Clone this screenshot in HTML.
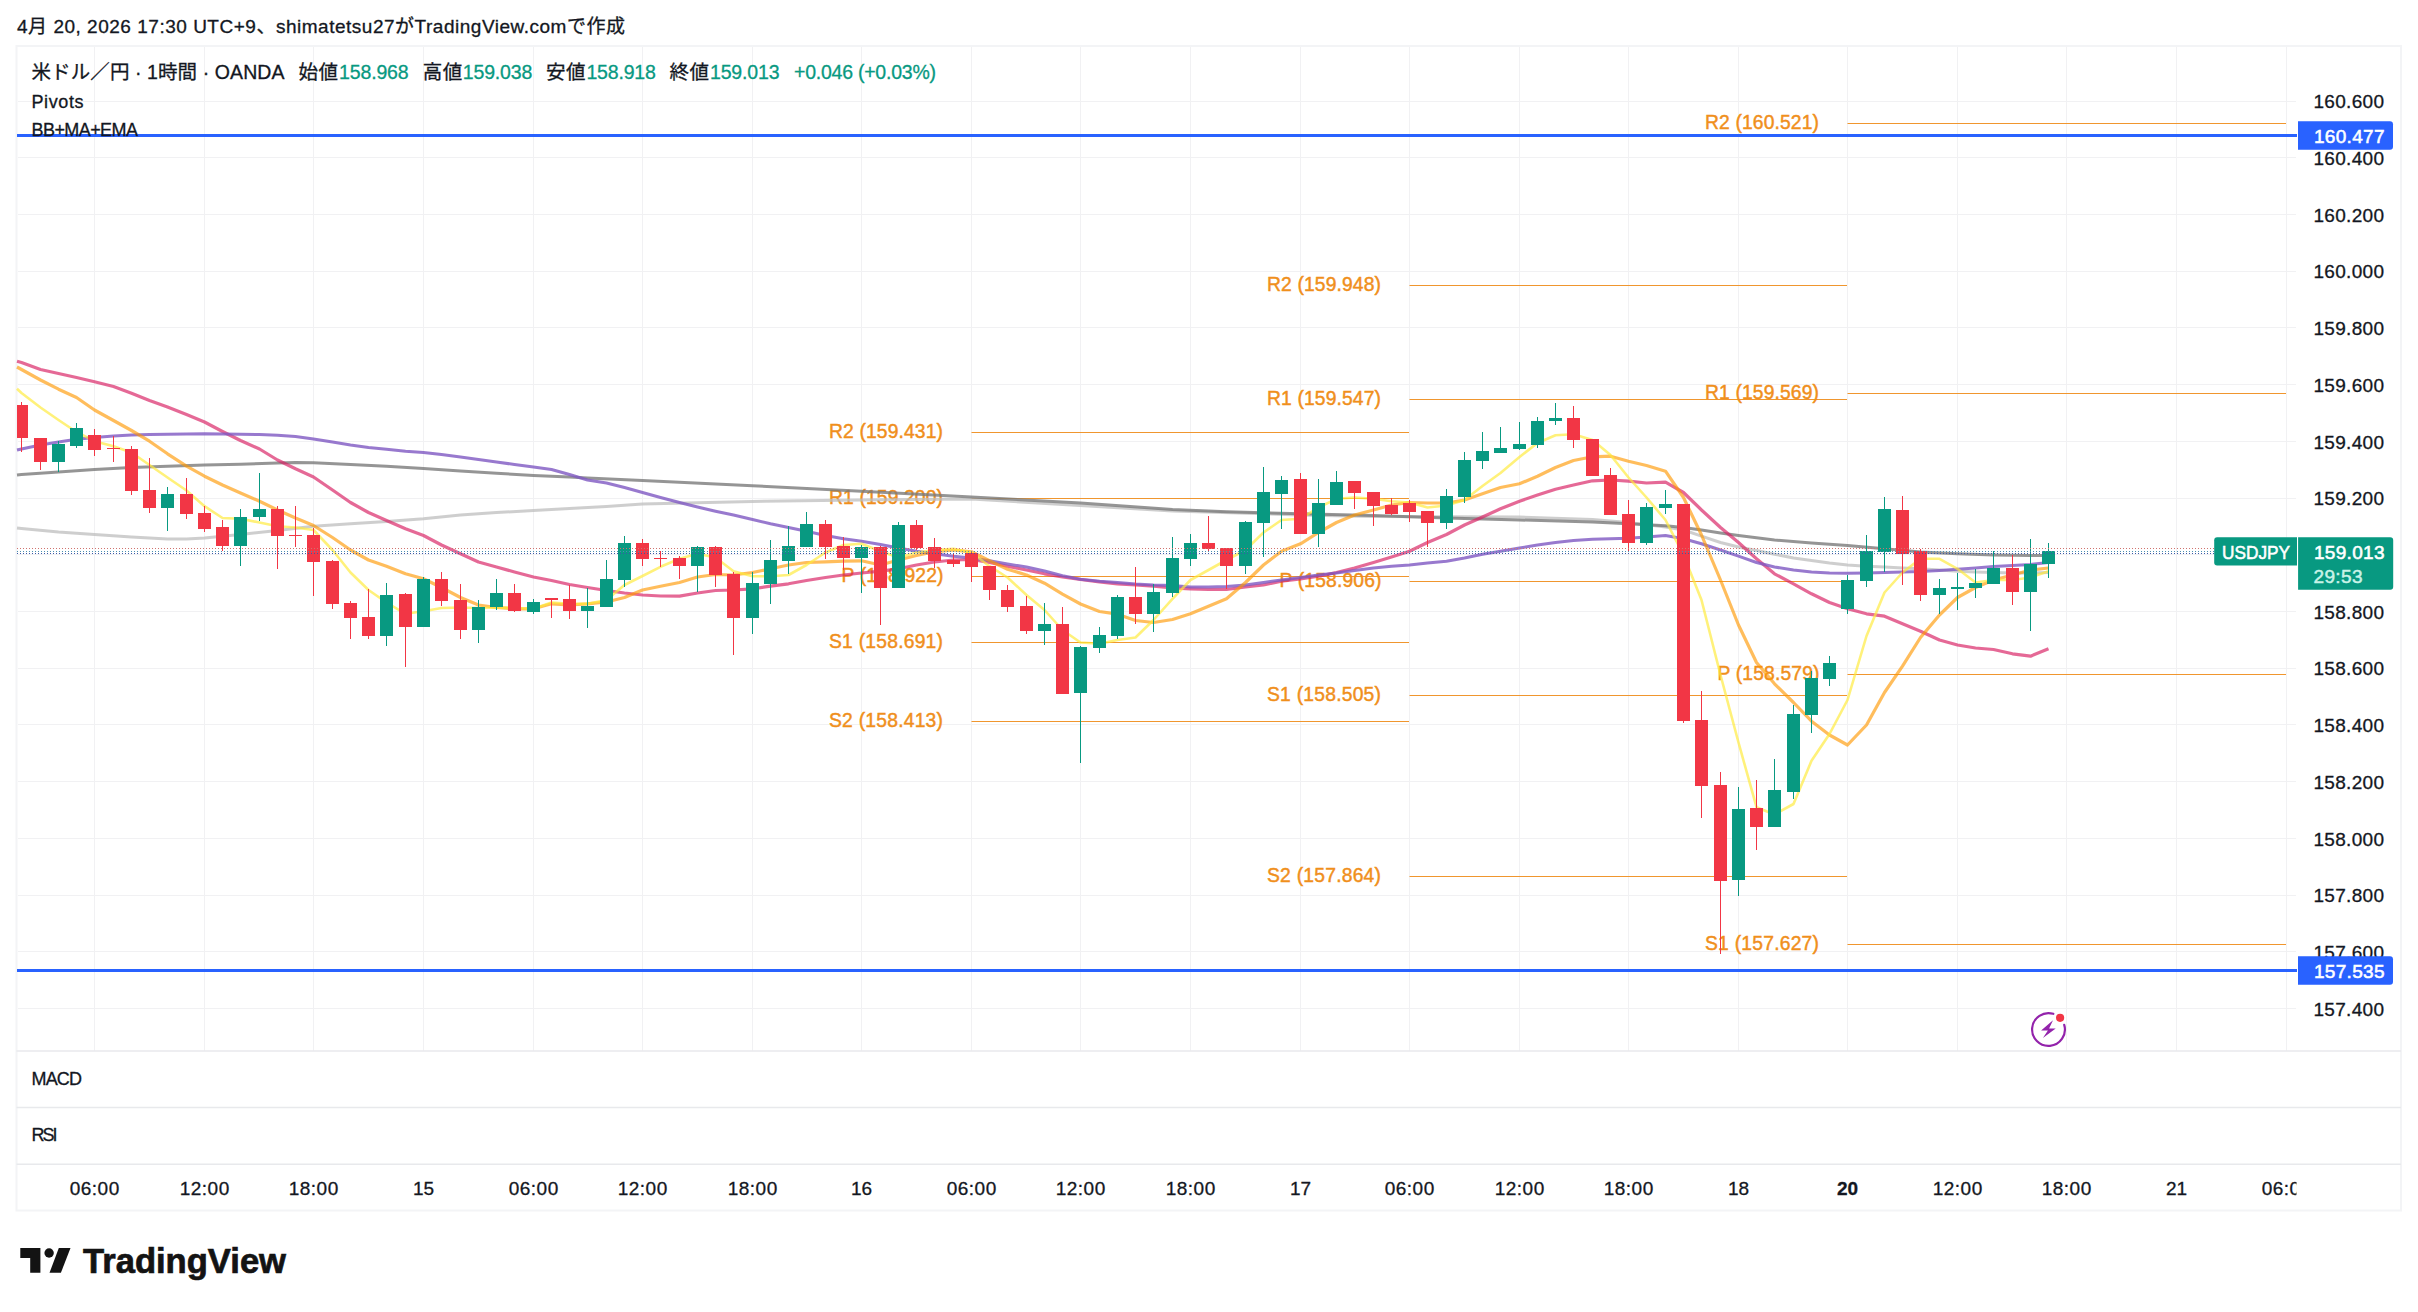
<!DOCTYPE html>
<html lang="ja"><head><meta charset="utf-8"><title>USDJPY chart</title>
<style>
html,body{margin:0;padding:0;background:#fff;}
body{width:2418px;height:1312px;overflow:hidden;position:relative;font-family:"Liberation Sans", "Noto Sans CJK JP", sans-serif;}
svg{position:absolute;left:0;top:0;display:block}
text{font-family:"Liberation Sans", "Noto Sans CJK JP", sans-serif;fill:#131722;stroke:#131722;stroke-width:.3px}
.ax{font-size:19px}
.pv{font-size:19.3px;fill:#f08f1c;stroke:#f08f1c;stroke-width:.45px}
.lg{font-size:19.5px}
.lg2{font-size:18px}
.gn{fill:#089981;stroke:#089981}
.wh{fill:#fff;stroke:#fff;stroke-width:.55px}
.wh2{fill:#c8f3e8;stroke:#c8f3e8;stroke-width:.5px}
</style></head><body>
<svg width="2418" height="1312" viewBox="0 0 2418 1312">

<rect x="16.5" y="46" width="2384.5" height="1164.5" fill="#fff" stroke="#f3f4f6" stroke-width="2"/>
<g stroke="#f1f1f3" stroke-width="1" shape-rendering="crispEdges">
<line x1="94.5" y1="47" x2="94.5" y2="1050.5"/>
<line x1="204.5" y1="47" x2="204.5" y2="1050.5"/>
<line x1="313.5" y1="47" x2="313.5" y2="1050.5"/>
<line x1="423.5" y1="47" x2="423.5" y2="1050.5"/>
<line x1="533.5" y1="47" x2="533.5" y2="1050.5"/>
<line x1="642.5" y1="47" x2="642.5" y2="1050.5"/>
<line x1="752.5" y1="47" x2="752.5" y2="1050.5"/>
<line x1="861.5" y1="47" x2="861.5" y2="1050.5"/>
<line x1="971.5" y1="47" x2="971.5" y2="1050.5"/>
<line x1="1080.5" y1="47" x2="1080.5" y2="1050.5"/>
<line x1="1190.5" y1="47" x2="1190.5" y2="1050.5"/>
<line x1="1300.5" y1="47" x2="1300.5" y2="1050.5"/>
<line x1="1409.5" y1="47" x2="1409.5" y2="1050.5"/>
<line x1="1519.5" y1="47" x2="1519.5" y2="1050.5"/>
<line x1="1628.5" y1="47" x2="1628.5" y2="1050.5"/>
<line x1="1738.5" y1="47" x2="1738.5" y2="1050.5"/>
<line x1="1847.5" y1="47" x2="1847.5" y2="1050.5"/>
<line x1="1957.5" y1="47" x2="1957.5" y2="1050.5"/>
<line x1="2066.5" y1="47" x2="2066.5" y2="1050.5"/>
<line x1="2176.5" y1="47" x2="2176.5" y2="1050.5"/>
<line x1="2286.5" y1="47" x2="2286.5" y2="1050.5"/>
<line x1="17.5" y1="101.5" x2="2296" y2="101.5"/>
<line x1="17.5" y1="157.5" x2="2296" y2="157.5"/>
<line x1="17.5" y1="214.5" x2="2296" y2="214.5"/>
<line x1="17.5" y1="271.5" x2="2296" y2="271.5"/>
<line x1="17.5" y1="327.5" x2="2296" y2="327.5"/>
<line x1="17.5" y1="384.5" x2="2296" y2="384.5"/>
<line x1="17.5" y1="441.5" x2="2296" y2="441.5"/>
<line x1="17.5" y1="498.5" x2="2296" y2="498.5"/>
<line x1="17.5" y1="554.5" x2="2296" y2="554.5"/>
<line x1="17.5" y1="611.5" x2="2296" y2="611.5"/>
<line x1="17.5" y1="668.5" x2="2296" y2="668.5"/>
<line x1="17.5" y1="724.5" x2="2296" y2="724.5"/>
<line x1="17.5" y1="781.5" x2="2296" y2="781.5"/>
<line x1="17.5" y1="838.5" x2="2296" y2="838.5"/>
<line x1="17.5" y1="895.5" x2="2296" y2="895.5"/>
<line x1="17.5" y1="951.5" x2="2296" y2="951.5"/>
<line x1="17.5" y1="1008.5" x2="2296" y2="1008.5"/>
</g>
<g stroke="#e8e9ec" stroke-width="1.6">
<line x1="16.5" y1="1051" x2="2401" y2="1051"/>
<line x1="16.5" y1="1107.5" x2="2401" y2="1107.5"/>
<line x1="16.5" y1="1164.2" x2="2401" y2="1164.2"/>
</g>
<g stroke="#f0962e" stroke-width="1.1">
<line x1="971.5" y1="432.5" x2="1409" y2="432.5"/>
<line x1="971.5" y1="498.5" x2="1409" y2="498.5"/>
<line x1="971.5" y1="576.5" x2="1409" y2="576.5"/>
<line x1="971.5" y1="642.5" x2="1409" y2="642.5"/>
<line x1="971.5" y1="721.5" x2="1409" y2="721.5"/>
<line x1="1409.5" y1="285.5" x2="1847" y2="285.5"/>
<line x1="1409.5" y1="399.5" x2="1847" y2="399.5"/>
<line x1="1409.5" y1="581.5" x2="1847" y2="581.5"/>
<line x1="1409.5" y1="695.5" x2="1847" y2="695.5"/>
<line x1="1409.5" y1="876.5" x2="1847" y2="876.5"/>
<line x1="1847.5" y1="123.5" x2="2286" y2="123.5"/>
<line x1="1847.5" y1="393.5" x2="2286" y2="393.5"/>
<line x1="1847.5" y1="674.5" x2="2286" y2="674.5"/>
<line x1="1847.5" y1="944.5" x2="2286" y2="944.5"/>
</g>
<text class="pv" x="943.0" y="438.1" text-anchor="end" textLength="114" lengthAdjust="spacing">R2 (159.431)</text>
<text class="pv" x="943.0" y="504.1" text-anchor="end" textLength="114" lengthAdjust="spacing">R1 (159.200)</text>
<text class="pv" x="943.5" y="582.1" text-anchor="end" textLength="102" lengthAdjust="spacing">P (158.922)</text>
<text class="pv" x="943.0" y="648.1" text-anchor="end" textLength="114" lengthAdjust="spacing">S1 (158.691)</text>
<text class="pv" x="943.0" y="727.1" text-anchor="end" textLength="114" lengthAdjust="spacing">S2 (158.413)</text>
<text class="pv" x="1381.0" y="291.1" text-anchor="end" textLength="114" lengthAdjust="spacing">R2 (159.948)</text>
<text class="pv" x="1381.0" y="405.1" text-anchor="end" textLength="114" lengthAdjust="spacing">R1 (159.547)</text>
<text class="pv" x="1381.5" y="587.1" text-anchor="end" textLength="102" lengthAdjust="spacing">P (158.906)</text>
<text class="pv" x="1381.0" y="701.1" text-anchor="end" textLength="114" lengthAdjust="spacing">S1 (158.505)</text>
<text class="pv" x="1381.0" y="882.1" text-anchor="end" textLength="114" lengthAdjust="spacing">S2 (157.864)</text>
<text class="pv" x="1819.0" y="129.1" text-anchor="end" textLength="114" lengthAdjust="spacing">R2 (160.521)</text>
<text class="pv" x="1819.0" y="399.1" text-anchor="end" textLength="114" lengthAdjust="spacing">R1 (159.569)</text>
<text class="pv" x="1819.5" y="680.1" text-anchor="end" textLength="102" lengthAdjust="spacing">P (158.579)</text>
<text class="pv" x="1819.0" y="950.1" text-anchor="end" textLength="114" lengthAdjust="spacing">S1 (157.627)</text>
<path d="M17.0 528.0 L21.5 528.5 L58.5 532.0 L94.5 534.5 L131.5 537.0 L167.5 539.0 L186.5 539.0 L204.5 538.0 L240.5 534.5 L277.5 530.5 L313.5 526.2 L350.5 523.8 L386.5 521.5 L423.5 518.8 L460.5 515.0 L496.5 512.5 L533.5 510.5 L569.5 508.5 L606.5 506.5 L642.5 504.0 L752.5 501.5 L861.5 500.0 L971.5 499.0 L1172.5 511.0 L1300.5 515.0 L1373.5 516.5 L1446.5 516.8 L1519.5 517.0 L1592.5 519.5 L1628.5 522.5 L1665.5 527.0 L1683.5 530.0 L1701.5 536.2 L1720.5 542.5 L1738.5 547.0 L1756.5 550.5 L1774.5 554.2 L1793.5 558.0 L1811.5 560.5 L1829.5 563.0 L1847.5 565.0 L1866.5 566.2 L1884.5 567.0 L1902.5 568.0 L1920.5 568.8 L1939.5 570.0 L1957.5 571.2 L1975.5 572.0 L1993.5 572.5 L2012.5 573.0 L2030.5 573.0 L2048.5 572.5" fill="none" stroke="#bdbdbd" stroke-width="3.0" stroke-opacity="0.75" stroke-linejoin="round" stroke-linecap="butt"/>
<path d="M17.0 475.0 L21.5 474.5 L58.5 472.0 L94.5 469.5 L131.5 467.5 L167.5 466.2 L204.5 465.0 L240.5 464.2 L277.5 463.0 L295.5 462.5 L313.5 462.8 L350.5 464.5 L386.5 466.2 L423.5 468.5 L460.5 471.0 L496.5 473.2 L533.5 475.5 L569.5 477.0 L587.5 478.0 L642.5 480.5 L752.5 485.8 L861.5 491.2 L971.5 497.0 L1080.5 503.0 L1172.5 509.5 L1226.5 511.8 L1300.5 513.8 L1373.5 515.5 L1446.5 518.0 L1519.5 520.0 L1592.5 522.0 L1628.5 523.8 L1665.5 525.8 L1683.5 527.5 L1701.5 530.0 L1720.5 533.0 L1738.5 535.5 L1774.5 540.0 L1811.5 543.0 L1847.5 545.5 L1884.5 548.8 L1920.5 552.0 L1957.5 553.8 L1993.5 555.0 L2030.5 555.5 L2048.5 555.5" fill="none" stroke="#7a7a7a" stroke-width="3.0" stroke-opacity="0.8" stroke-linejoin="round" stroke-linecap="butt"/>
<path d="M17.0 361.2 L21.5 362.5 L40.5 369.5 L58.5 373.5 L76.5 377.5 L94.5 381.8 L113.5 386.5 L131.5 393.2 L149.5 400.5 L167.5 407.0 L186.5 414.5 L204.5 422.0 L222.5 431.5 L240.5 440.5 L259.5 449.0 L277.5 460.0 L295.5 468.8 L313.5 477.0 L332.5 490.0 L350.5 502.5 L368.5 512.5 L386.5 520.5 L405.5 528.8 L423.5 535.5 L441.5 545.0 L460.5 553.8 L478.5 562.0 L496.5 567.0 L514.5 572.0 L533.5 577.0 L551.5 580.5 L569.5 584.5 L587.5 587.5 L606.5 590.5 L624.5 593.0 L642.5 595.0 L660.5 596.0 L679.5 596.2 L697.5 593.0 L715.5 590.5 L733.5 590.0 L752.5 588.8 L770.5 586.2 L788.5 583.8 L806.5 580.5 L825.5 577.5 L843.5 575.0 L861.5 573.0 L880.5 571.2 L898.5 568.8 L916.5 565.0 L934.5 562.0 L953.5 560.0 L971.5 559.5 L989.5 562.5 L1007.5 566.2 L1026.5 570.0 L1044.5 573.8 L1062.5 577.0 L1080.5 579.5 L1099.5 581.8 L1117.5 583.8 L1135.5 585.0 L1153.5 586.2 L1172.5 587.8 L1190.5 588.8 L1208.5 589.5 L1226.5 589.5 L1245.5 587.0 L1263.5 585.0 L1281.5 581.2 L1300.5 578.8 L1318.5 576.2 L1336.5 572.5 L1354.5 568.0 L1373.5 562.5 L1391.5 557.0 L1409.5 551.2 L1427.5 542.5 L1446.5 534.5 L1464.5 525.0 L1482.5 517.0 L1500.5 508.8 L1519.5 501.2 L1537.5 495.0 L1555.5 489.2 L1573.5 485.0 L1592.5 480.8 L1610.5 480.0 L1628.5 481.2 L1646.5 483.0 L1665.5 482.2 L1683.5 492.5 L1701.5 510.0 L1720.5 527.5 L1738.5 542.5 L1756.5 558.8 L1774.5 573.8 L1793.5 583.8 L1811.5 593.8 L1829.5 602.5 L1847.5 608.8 L1866.5 613.8 L1884.5 616.2 L1902.5 623.8 L1920.5 631.2 L1939.5 640.0 L1957.5 645.0 L1975.5 648.0 L1993.5 649.5 L2012.5 653.8 L2030.5 656.2 L2048.5 648.8" fill="none" stroke="#d81b60" stroke-width="3.2" stroke-opacity="0.66" stroke-linejoin="round" stroke-linecap="butt"/>
<path d="M17.0 450.0 L21.5 449.0 L40.5 445.0 L58.5 442.0 L76.5 439.2 L94.5 437.5 L113.5 436.0 L131.5 435.0 L149.5 434.5 L167.5 434.2 L186.5 434.0 L204.5 433.8 L222.5 434.0 L240.5 434.2 L259.5 434.5 L277.5 435.2 L295.5 436.5 L313.5 439.0 L332.5 442.0 L350.5 445.0 L368.5 447.5 L386.5 449.2 L405.5 451.2 L423.5 452.5 L441.5 454.5 L460.5 457.0 L478.5 459.5 L496.5 462.0 L514.5 464.5 L533.5 467.0 L551.5 469.5 L569.5 474.5 L587.5 480.0 L606.5 483.0 L624.5 487.5 L642.5 492.5 L660.5 497.5 L679.5 502.5 L697.5 507.0 L715.5 511.2 L733.5 515.0 L752.5 519.5 L770.5 523.8 L788.5 527.5 L806.5 531.2 L825.5 535.5 L843.5 538.8 L861.5 541.2 L880.5 544.5 L898.5 548.0 L916.5 551.2 L934.5 553.8 L953.5 556.2 L971.5 558.0 L989.5 560.8 L1007.5 564.0 L1026.5 567.0 L1044.5 571.0 L1062.5 575.8 L1080.5 579.2 L1099.5 581.2 L1117.5 582.5 L1135.5 584.0 L1153.5 585.0 L1172.5 585.5 L1190.5 587.0 L1208.5 587.0 L1226.5 586.5 L1245.5 585.0 L1263.5 582.5 L1281.5 580.0 L1300.5 577.5 L1318.5 575.0 L1336.5 573.0 L1354.5 570.5 L1373.5 568.0 L1391.5 566.2 L1409.5 565.0 L1427.5 563.0 L1446.5 561.2 L1464.5 558.0 L1482.5 554.2 L1500.5 551.2 L1519.5 548.0 L1537.5 545.0 L1555.5 542.5 L1573.5 540.5 L1592.5 539.2 L1610.5 538.8 L1628.5 538.2 L1646.5 537.0 L1665.5 535.5 L1683.5 538.8 L1701.5 543.8 L1720.5 550.0 L1738.5 556.2 L1756.5 562.5 L1774.5 567.0 L1793.5 570.0 L1811.5 572.0 L1829.5 573.0 L1847.5 573.2 L1866.5 573.0 L1884.5 572.5 L1902.5 572.0 L1920.5 571.5 L1939.5 570.5 L1957.5 569.2 L1975.5 568.0 L1993.5 566.5 L2012.5 565.5 L2030.5 564.5 L2048.5 562.5" fill="none" stroke="#7e57c2" stroke-width="3.0" stroke-opacity="0.8" stroke-linejoin="round" stroke-linecap="butt"/>
<path d="M17.0 367.0 L21.5 369.5 L40.5 380.0 L58.5 389.2 L76.5 397.5 L94.5 410.0 L113.5 420.5 L131.5 430.5 L149.5 441.2 L167.5 453.8 L186.5 466.2 L204.5 476.2 L222.5 485.0 L240.5 493.0 L259.5 501.2 L277.5 510.0 L295.5 518.0 L313.5 525.5 L332.5 537.5 L350.5 550.0 L368.5 560.0 L386.5 566.2 L405.5 573.8 L423.5 578.8 L441.5 587.5 L460.5 597.5 L478.5 605.0 L496.5 607.5 L514.5 608.8 L533.5 608.8 L551.5 603.8 L569.5 605.0 L587.5 603.8 L606.5 602.0 L624.5 597.5 L642.5 590.0 L660.5 586.2 L679.5 582.5 L697.5 577.0 L715.5 574.5 L733.5 575.0 L752.5 572.5 L770.5 568.8 L788.5 565.0 L806.5 562.5 L825.5 561.8 L843.5 561.2 L861.5 560.8 L880.5 565.0 L898.5 560.0 L916.5 555.5 L934.5 551.8 L953.5 550.0 L971.5 551.8 L989.5 560.8 L1007.5 569.2 L1026.5 575.0 L1044.5 583.2 L1062.5 594.2 L1080.5 604.0 L1099.5 611.5 L1117.5 614.2 L1135.5 620.5 L1153.5 622.5 L1172.5 619.5 L1190.5 613.8 L1208.5 606.2 L1226.5 598.8 L1245.5 582.5 L1263.5 565.0 L1281.5 551.2 L1300.5 543.8 L1318.5 532.5 L1336.5 522.5 L1354.5 515.0 L1373.5 510.0 L1391.5 505.0 L1409.5 502.5 L1427.5 503.0 L1446.5 503.0 L1464.5 500.0 L1482.5 493.8 L1500.5 487.5 L1519.5 483.8 L1537.5 476.2 L1555.5 467.5 L1573.5 460.5 L1592.5 456.8 L1610.5 456.2 L1628.5 461.2 L1646.5 465.5 L1665.5 471.2 L1683.5 497.5 L1701.5 535.0 L1720.5 580.0 L1738.5 625.0 L1756.5 662.5 L1774.5 683.8 L1793.5 702.5 L1811.5 721.2 L1829.5 735.0 L1847.5 745.0 L1866.5 725.0 L1884.5 692.5 L1902.5 666.2 L1920.5 637.5 L1939.5 615.0 L1957.5 597.5 L1975.5 587.5 L1993.5 580.0 L2012.5 575.0 L2030.5 570.0 L2048.5 568.0" fill="none" stroke="#ff9800" stroke-width="3.2" stroke-opacity="0.64" stroke-linejoin="round" stroke-linecap="butt"/>
<path d="M17.0 388.8 L21.5 393.0 L40.5 407.5 L58.5 420.0 L76.5 432.0 L94.5 441.2 L113.5 446.2 L131.5 452.5 L149.5 465.0 L167.5 477.5 L186.5 490.5 L204.5 506.2 L222.5 518.0 L240.5 518.8 L259.5 522.5 L277.5 526.2 L295.5 527.5 L313.5 530.0 L332.5 550.0 L350.5 572.5 L368.5 590.0 L386.5 602.5 L405.5 613.8 L423.5 611.2 L441.5 608.0 L460.5 607.5 L478.5 608.0 L496.5 607.5 L514.5 608.0 L533.5 608.8 L551.5 602.5 L569.5 603.8 L587.5 603.8 L606.5 600.0 L624.5 585.0 L642.5 576.0 L660.5 566.8 L679.5 558.8 L697.5 553.8 L715.5 557.5 L733.5 571.2 L752.5 576.2 L770.5 576.2 L788.5 575.0 L806.5 565.0 L825.5 552.5 L843.5 545.0 L861.5 543.8 L880.5 551.2 L898.5 557.5 L916.5 552.5 L934.5 550.0 L953.5 548.8 L971.5 552.5 L989.5 566.2 L1007.5 577.5 L1026.5 595.0 L1044.5 610.0 L1062.5 630.0 L1080.5 642.5 L1099.5 643.8 L1117.5 640.0 L1135.5 637.5 L1153.5 620.0 L1172.5 598.8 L1190.5 580.0 L1208.5 570.0 L1226.5 560.0 L1245.5 550.0 L1263.5 532.5 L1281.5 520.0 L1300.5 518.8 L1318.5 507.5 L1336.5 498.8 L1354.5 497.5 L1373.5 498.8 L1391.5 501.2 L1409.5 502.5 L1427.5 507.5 L1446.5 505.5 L1464.5 500.0 L1482.5 486.0 L1500.5 473.0 L1519.5 457.0 L1537.5 443.0 L1555.5 435.2 L1573.5 434.2 L1592.5 440.0 L1610.5 455.0 L1628.5 477.5 L1646.5 497.5 L1665.5 520.0 L1683.5 555.0 L1701.5 600.0 L1720.5 675.0 L1738.5 742.5 L1756.5 807.2 L1774.5 814.5 L1793.5 804.0 L1811.5 760.8 L1829.5 734.0 L1847.5 700.0 L1866.5 636.0 L1884.5 592.5 L1902.5 572.5 L1920.5 558.8 L1939.5 558.8 L1957.5 568.8 L1975.5 582.5 L1993.5 580.0 L2012.5 580.0 L2030.5 577.5 L2048.5 571.2" fill="none" stroke="#ffeb3b" stroke-width="2.6" stroke-opacity="0.68" stroke-linejoin="round" stroke-linecap="butt"/>
<g stroke="#2962ff" stroke-width="3">
<line x1="17" y1="135.5" x2="2297" y2="135.5"/>
<line x1="17" y1="970.5" x2="2297" y2="970.5"/>
</g>
<g shape-rendering="crispEdges">
<rect x="21.0" y="402" width="1" height="50" fill="#f23645"/>
<rect x="17" y="405" width="11.0" height="33" fill="#f23645"/>
<rect x="40.0" y="438" width="1" height="32" fill="#f23645"/>
<rect x="34.0" y="438" width="13" height="24" fill="#f23645"/>
<rect x="58.0" y="441" width="1" height="31" fill="#089981"/>
<rect x="52.0" y="444" width="13" height="18" fill="#089981"/>
<rect x="76.0" y="423" width="1" height="25" fill="#089981"/>
<rect x="70.0" y="428" width="13" height="18" fill="#089981"/>
<rect x="94.0" y="429" width="1" height="27" fill="#f23645"/>
<rect x="88.0" y="435" width="13" height="15" fill="#f23645"/>
<rect x="113.0" y="436" width="1" height="26" fill="#f23645"/>
<rect x="107.0" y="448" width="13" height="1" fill="#f23645"/>
<rect x="131.0" y="446" width="1" height="49" fill="#f23645"/>
<rect x="125.0" y="449" width="13" height="42" fill="#f23645"/>
<rect x="149.0" y="458" width="1" height="55" fill="#f23645"/>
<rect x="143.0" y="490" width="13" height="18" fill="#f23645"/>
<rect x="167.0" y="487" width="1" height="44" fill="#089981"/>
<rect x="161.0" y="494" width="13" height="14" fill="#089981"/>
<rect x="186.0" y="478" width="1" height="41" fill="#f23645"/>
<rect x="180.0" y="494" width="13" height="20" fill="#f23645"/>
<rect x="204.0" y="506" width="1" height="26" fill="#f23645"/>
<rect x="198.0" y="513" width="13" height="16" fill="#f23645"/>
<rect x="222.0" y="520" width="1" height="31" fill="#f23645"/>
<rect x="216.0" y="527" width="13" height="19" fill="#f23645"/>
<rect x="240.0" y="509" width="1" height="57" fill="#089981"/>
<rect x="234.0" y="517" width="13" height="29" fill="#089981"/>
<rect x="259.0" y="473" width="1" height="48" fill="#089981"/>
<rect x="253.0" y="509" width="13" height="8" fill="#089981"/>
<rect x="277.0" y="506" width="1" height="63" fill="#f23645"/>
<rect x="271.0" y="509" width="13" height="27" fill="#f23645"/>
<rect x="295.0" y="506" width="1" height="41" fill="#f23645"/>
<rect x="289.0" y="535" width="13" height="1" fill="#f23645"/>
<rect x="313.0" y="528" width="1" height="68" fill="#f23645"/>
<rect x="307.0" y="535" width="13" height="27" fill="#f23645"/>
<rect x="332.0" y="560" width="1" height="49" fill="#f23645"/>
<rect x="326.0" y="561" width="13" height="43" fill="#f23645"/>
<rect x="350.0" y="601" width="1" height="38" fill="#f23645"/>
<rect x="344.0" y="603" width="13" height="15" fill="#f23645"/>
<rect x="368.0" y="589" width="1" height="50" fill="#f23645"/>
<rect x="362.0" y="617" width="13" height="19" fill="#f23645"/>
<rect x="386.0" y="583" width="1" height="63" fill="#089981"/>
<rect x="380.0" y="595" width="13" height="41" fill="#089981"/>
<rect x="405.0" y="593" width="1" height="74" fill="#f23645"/>
<rect x="399.0" y="594" width="13" height="33" fill="#f23645"/>
<rect x="423.0" y="577" width="1" height="50" fill="#089981"/>
<rect x="417.0" y="579" width="13" height="48" fill="#089981"/>
<rect x="441.0" y="572" width="1" height="34" fill="#f23645"/>
<rect x="435.0" y="579" width="13" height="22" fill="#f23645"/>
<rect x="460.0" y="584" width="1" height="55" fill="#f23645"/>
<rect x="454.0" y="600" width="13" height="30" fill="#f23645"/>
<rect x="478.0" y="600" width="1" height="43" fill="#089981"/>
<rect x="472.0" y="607" width="13" height="23" fill="#089981"/>
<rect x="496.0" y="579" width="1" height="31" fill="#089981"/>
<rect x="490.0" y="593" width="13" height="14" fill="#089981"/>
<rect x="514.0" y="584" width="1" height="28" fill="#f23645"/>
<rect x="508.0" y="593" width="13" height="18" fill="#f23645"/>
<rect x="533.0" y="599" width="1" height="15" fill="#089981"/>
<rect x="527.0" y="602" width="13" height="10" fill="#089981"/>
<rect x="551.0" y="598" width="1" height="20" fill="#f23645"/>
<rect x="545.0" y="598" width="13" height="2" fill="#f23645"/>
<rect x="569.0" y="585" width="1" height="34" fill="#f23645"/>
<rect x="563.0" y="599" width="13" height="12" fill="#f23645"/>
<rect x="587.0" y="588" width="1" height="40" fill="#089981"/>
<rect x="581.0" y="606" width="13" height="5" fill="#089981"/>
<rect x="606.0" y="560" width="1" height="47" fill="#089981"/>
<rect x="600.0" y="579" width="13" height="28" fill="#089981"/>
<rect x="624.0" y="536" width="1" height="51" fill="#089981"/>
<rect x="618.0" y="543" width="13" height="37" fill="#089981"/>
<rect x="642.0" y="539" width="1" height="27" fill="#f23645"/>
<rect x="636.0" y="543" width="13" height="16" fill="#f23645"/>
<rect x="660.0" y="551" width="1" height="16" fill="#f23645"/>
<rect x="654.0" y="558" width="13" height="1" fill="#f23645"/>
<rect x="679.0" y="556" width="1" height="23" fill="#f23645"/>
<rect x="673.0" y="558" width="13" height="8" fill="#f23645"/>
<rect x="697.0" y="546" width="1" height="46" fill="#089981"/>
<rect x="691.0" y="547" width="13" height="19" fill="#089981"/>
<rect x="715.0" y="546" width="1" height="41" fill="#f23645"/>
<rect x="709.0" y="547" width="13" height="28" fill="#f23645"/>
<rect x="733.0" y="572" width="1" height="83" fill="#f23645"/>
<rect x="727.0" y="574" width="13" height="44" fill="#f23645"/>
<rect x="752.0" y="572" width="1" height="62" fill="#089981"/>
<rect x="746.0" y="583" width="13" height="35" fill="#089981"/>
<rect x="770.0" y="540" width="1" height="64" fill="#089981"/>
<rect x="764.0" y="560" width="13" height="24" fill="#089981"/>
<rect x="788.0" y="526" width="1" height="48" fill="#089981"/>
<rect x="782.0" y="546" width="13" height="15" fill="#089981"/>
<rect x="806.0" y="512" width="1" height="35" fill="#089981"/>
<rect x="800.0" y="524" width="13" height="23" fill="#089981"/>
<rect x="825.0" y="520" width="1" height="39" fill="#f23645"/>
<rect x="819.0" y="524" width="13" height="23" fill="#f23645"/>
<rect x="843.0" y="537" width="1" height="33" fill="#f23645"/>
<rect x="837.0" y="546" width="13" height="12" fill="#f23645"/>
<rect x="861.0" y="545" width="1" height="48" fill="#089981"/>
<rect x="855.0" y="547" width="13" height="11" fill="#089981"/>
<rect x="880.0" y="546" width="1" height="79" fill="#f23645"/>
<rect x="874.0" y="547" width="13" height="41" fill="#f23645"/>
<rect x="898.0" y="522" width="1" height="66" fill="#089981"/>
<rect x="892.0" y="525" width="13" height="63" fill="#089981"/>
<rect x="916.0" y="520" width="1" height="30" fill="#f23645"/>
<rect x="910.0" y="525" width="13" height="23" fill="#f23645"/>
<rect x="934.0" y="538" width="1" height="30" fill="#f23645"/>
<rect x="928.0" y="547" width="13" height="14" fill="#f23645"/>
<rect x="953.0" y="554" width="1" height="13" fill="#f23645"/>
<rect x="947.0" y="560" width="13" height="4" fill="#f23645"/>
<rect x="971.0" y="552" width="1" height="30" fill="#f23645"/>
<rect x="965.0" y="553" width="13" height="14" fill="#f23645"/>
<rect x="989.0" y="566" width="1" height="34" fill="#f23645"/>
<rect x="983.0" y="566" width="13" height="24" fill="#f23645"/>
<rect x="1007.0" y="585" width="1" height="27" fill="#f23645"/>
<rect x="1001.0" y="590" width="13" height="17" fill="#f23645"/>
<rect x="1026.0" y="596" width="1" height="38" fill="#f23645"/>
<rect x="1020.0" y="606" width="13" height="25" fill="#f23645"/>
<rect x="1044.0" y="603" width="1" height="42" fill="#089981"/>
<rect x="1038.0" y="624" width="13" height="7" fill="#089981"/>
<rect x="1062.0" y="607" width="1" height="87" fill="#f23645"/>
<rect x="1056.0" y="624" width="13" height="70" fill="#f23645"/>
<rect x="1080.0" y="646" width="1" height="117" fill="#089981"/>
<rect x="1074.0" y="647" width="13" height="46" fill="#089981"/>
<rect x="1099.0" y="627" width="1" height="26" fill="#089981"/>
<rect x="1093.0" y="635" width="13" height="13" fill="#089981"/>
<rect x="1117.0" y="595" width="1" height="44" fill="#089981"/>
<rect x="1111.0" y="597" width="13" height="39" fill="#089981"/>
<rect x="1135.0" y="567" width="1" height="57" fill="#f23645"/>
<rect x="1129.0" y="597" width="13" height="17" fill="#f23645"/>
<rect x="1153.0" y="584" width="1" height="48" fill="#089981"/>
<rect x="1147.0" y="592" width="13" height="22" fill="#089981"/>
<rect x="1172.0" y="537" width="1" height="60" fill="#089981"/>
<rect x="1166.0" y="558" width="13" height="35" fill="#089981"/>
<rect x="1190.0" y="534" width="1" height="32" fill="#089981"/>
<rect x="1184.0" y="543" width="13" height="16" fill="#089981"/>
<rect x="1208.0" y="516" width="1" height="36" fill="#f23645"/>
<rect x="1202.0" y="543" width="13" height="6" fill="#f23645"/>
<rect x="1226.0" y="548" width="1" height="41" fill="#f23645"/>
<rect x="1220.0" y="548" width="13" height="18" fill="#f23645"/>
<rect x="1245.0" y="521" width="1" height="53" fill="#089981"/>
<rect x="1239.0" y="522" width="13" height="44" fill="#089981"/>
<rect x="1263.0" y="467" width="1" height="90" fill="#089981"/>
<rect x="1257.0" y="492" width="13" height="31" fill="#089981"/>
<rect x="1281.0" y="476" width="1" height="53" fill="#089981"/>
<rect x="1275.0" y="480" width="13" height="14" fill="#089981"/>
<rect x="1300.0" y="473" width="1" height="61" fill="#f23645"/>
<rect x="1294.0" y="479" width="13" height="55" fill="#f23645"/>
<rect x="1318.0" y="479" width="1" height="68" fill="#089981"/>
<rect x="1312.0" y="503" width="13" height="31" fill="#089981"/>
<rect x="1336.0" y="471" width="1" height="34" fill="#089981"/>
<rect x="1330.0" y="482" width="13" height="23" fill="#089981"/>
<rect x="1354.0" y="481" width="1" height="28" fill="#f23645"/>
<rect x="1348.0" y="481" width="13" height="12" fill="#f23645"/>
<rect x="1373.0" y="492" width="1" height="34" fill="#f23645"/>
<rect x="1367.0" y="492" width="13" height="14" fill="#f23645"/>
<rect x="1391.0" y="498" width="1" height="17" fill="#f23645"/>
<rect x="1385.0" y="505" width="13" height="9" fill="#f23645"/>
<rect x="1409.0" y="500" width="1" height="22" fill="#f23645"/>
<rect x="1403.0" y="503" width="13" height="9" fill="#f23645"/>
<rect x="1427.0" y="511" width="1" height="36" fill="#f23645"/>
<rect x="1421.0" y="511" width="13" height="12" fill="#f23645"/>
<rect x="1446.0" y="489" width="1" height="40" fill="#089981"/>
<rect x="1440.0" y="496" width="13" height="27" fill="#089981"/>
<rect x="1464.0" y="452" width="1" height="51" fill="#089981"/>
<rect x="1458.0" y="460" width="13" height="37" fill="#089981"/>
<rect x="1482.0" y="432" width="1" height="37" fill="#089981"/>
<rect x="1476.0" y="451" width="13" height="10" fill="#089981"/>
<rect x="1500.0" y="427" width="1" height="26" fill="#089981"/>
<rect x="1494.0" y="448" width="13" height="5" fill="#089981"/>
<rect x="1519.0" y="422" width="1" height="28" fill="#089981"/>
<rect x="1513.0" y="444" width="13" height="5" fill="#089981"/>
<rect x="1537.0" y="417" width="1" height="31" fill="#089981"/>
<rect x="1531.0" y="421" width="13" height="24" fill="#089981"/>
<rect x="1555.0" y="403" width="1" height="22" fill="#089981"/>
<rect x="1549.0" y="418" width="13" height="3" fill="#089981"/>
<rect x="1573.0" y="406" width="1" height="42" fill="#f23645"/>
<rect x="1567.0" y="418" width="13" height="22" fill="#f23645"/>
<rect x="1592.0" y="439" width="1" height="37" fill="#f23645"/>
<rect x="1586.0" y="439" width="13" height="37" fill="#f23645"/>
<rect x="1610.0" y="468" width="1" height="47" fill="#f23645"/>
<rect x="1604.0" y="475" width="13" height="40" fill="#f23645"/>
<rect x="1628.0" y="500" width="1" height="52" fill="#f23645"/>
<rect x="1622.0" y="514" width="13" height="29" fill="#f23645"/>
<rect x="1646.0" y="503" width="1" height="42" fill="#089981"/>
<rect x="1640.0" y="507" width="13" height="36" fill="#089981"/>
<rect x="1665.0" y="490" width="1" height="24" fill="#089981"/>
<rect x="1659.0" y="504" width="13" height="4" fill="#089981"/>
<rect x="1683.0" y="504" width="1" height="219" fill="#f23645"/>
<rect x="1677.0" y="504" width="13" height="217" fill="#f23645"/>
<rect x="1701.0" y="691" width="1" height="127" fill="#f23645"/>
<rect x="1695.0" y="720" width="13" height="66" fill="#f23645"/>
<rect x="1720.0" y="772" width="1" height="182" fill="#f23645"/>
<rect x="1714.0" y="785" width="13" height="96" fill="#f23645"/>
<rect x="1738.0" y="787" width="1" height="109" fill="#089981"/>
<rect x="1732.0" y="809" width="13" height="71" fill="#089981"/>
<rect x="1756.0" y="780" width="1" height="70" fill="#f23645"/>
<rect x="1750.0" y="808" width="13" height="19" fill="#f23645"/>
<rect x="1774.0" y="759" width="1" height="68" fill="#089981"/>
<rect x="1768.0" y="790" width="13" height="37" fill="#089981"/>
<rect x="1793.0" y="705" width="1" height="94" fill="#089981"/>
<rect x="1787.0" y="714" width="13" height="78" fill="#089981"/>
<rect x="1811.0" y="671" width="1" height="62" fill="#089981"/>
<rect x="1805.0" y="678" width="13" height="37" fill="#089981"/>
<rect x="1829.0" y="656" width="1" height="30" fill="#089981"/>
<rect x="1823.0" y="663" width="13" height="16" fill="#089981"/>
<rect x="1847.0" y="575" width="1" height="39" fill="#089981"/>
<rect x="1841.0" y="580" width="13" height="29" fill="#089981"/>
<rect x="1866.0" y="535" width="1" height="52" fill="#089981"/>
<rect x="1860.0" y="551" width="13" height="30" fill="#089981"/>
<rect x="1884.0" y="497" width="1" height="75" fill="#089981"/>
<rect x="1878.0" y="509" width="13" height="43" fill="#089981"/>
<rect x="1902.0" y="496" width="1" height="89" fill="#f23645"/>
<rect x="1896.0" y="510" width="13" height="44" fill="#f23645"/>
<rect x="1920.0" y="549" width="1" height="52" fill="#f23645"/>
<rect x="1914.0" y="551" width="13" height="44" fill="#f23645"/>
<rect x="1939.0" y="579" width="1" height="35" fill="#089981"/>
<rect x="1933.0" y="588" width="13" height="7" fill="#089981"/>
<rect x="1957.0" y="573" width="1" height="37" fill="#089981"/>
<rect x="1951.0" y="587" width="13" height="2" fill="#089981"/>
<rect x="1975.0" y="569" width="1" height="29" fill="#089981"/>
<rect x="1969.0" y="583" width="13" height="5" fill="#089981"/>
<rect x="1993.0" y="551" width="1" height="33" fill="#089981"/>
<rect x="1987.0" y="568" width="13" height="16" fill="#089981"/>
<rect x="2012.0" y="555" width="1" height="50" fill="#f23645"/>
<rect x="2006.0" y="568" width="13" height="24" fill="#f23645"/>
<rect x="2030.0" y="539" width="1" height="92" fill="#089981"/>
<rect x="2024.0" y="564" width="13" height="28" fill="#089981"/>
<rect x="2048.0" y="543" width="1" height="35" fill="#089981"/>
<rect x="2042.0" y="551" width="13" height="13" fill="#089981"/>
</g>
<g stroke-width="1" stroke-dasharray="1 2" shape-rendering="crispEdges">
<line x1="17" y1="548.5" x2="2214" y2="548.5" stroke="#d0726e"/>
<line x1="17" y1="551.5" x2="2214" y2="551.5" stroke="#4a8fb0"/>
<line x1="17" y1="553.5" x2="2214" y2="553.5" stroke="#3a58a8"/>
</g>
<text class="ax" x="2313.5" y="108.2" textLength="70.5" lengthAdjust="spacing">160.600</text>
<text class="ax" x="2313.5" y="164.9" textLength="70.5" lengthAdjust="spacing">160.400</text>
<text class="ax" x="2313.5" y="221.6" textLength="70.5" lengthAdjust="spacing">160.200</text>
<text class="ax" x="2313.5" y="278.4" textLength="70.5" lengthAdjust="spacing">160.000</text>
<text class="ax" x="2313.5" y="335.1" textLength="70.5" lengthAdjust="spacing">159.800</text>
<text class="ax" x="2313.5" y="391.8" textLength="70.5" lengthAdjust="spacing">159.600</text>
<text class="ax" x="2313.5" y="448.5" textLength="70.5" lengthAdjust="spacing">159.400</text>
<text class="ax" x="2313.5" y="505.2" textLength="70.5" lengthAdjust="spacing">159.200</text>
<text class="ax" x="2313.5" y="562.0" textLength="70.5" lengthAdjust="spacing">159.000</text>
<text class="ax" x="2313.5" y="618.7" textLength="70.5" lengthAdjust="spacing">158.800</text>
<text class="ax" x="2313.5" y="675.4" textLength="70.5" lengthAdjust="spacing">158.600</text>
<text class="ax" x="2313.5" y="732.1" textLength="70.5" lengthAdjust="spacing">158.400</text>
<text class="ax" x="2313.5" y="788.8" textLength="70.5" lengthAdjust="spacing">158.200</text>
<text class="ax" x="2313.5" y="845.6" textLength="70.5" lengthAdjust="spacing">158.000</text>
<text class="ax" x="2313.5" y="902.3" textLength="70.5" lengthAdjust="spacing">157.800</text>
<text class="ax" x="2313.5" y="959.0" textLength="70.5" lengthAdjust="spacing">157.600</text>
<text class="ax" x="2313.5" y="1015.7" textLength="70.5" lengthAdjust="spacing">157.400</text>
<path d="M2298 121.2 H2390 a3 3 0 0 1 3 3 V146.8 a3 3 0 0 1 -3 3 H2298 Z" fill="#2962ff"/>
<text x="2314" y="143.0" textLength="70.5" lengthAdjust="spacing" class="ax wh">160.477</text>
<path d="M2298 956.2 H2390 a3 3 0 0 1 3 3 V981.8 a3 3 0 0 1 -3 3 H2298 Z" fill="#2962ff"/>
<text x="2314" y="978.0" textLength="70.5" lengthAdjust="spacing" class="ax wh">157.535</text>
<path d="M2297 537.3 V565.6 H2217.2 a3 3 0 0 1 -3 -3 V540.3 a3 3 0 0 1 3 -3 Z" fill="#089981"/>
<text class="ax wh" x="2222" y="558.7" textLength="68" lengthAdjust="spacingAndGlyphs">USDJPY</text>
<path d="M2298.1 537.3 H2390.2 a3 3 0 0 1 3 3 V586.7 a3 3 0 0 1 -3 3 H2298.1 Z" fill="#089981"/>
<text class="ax wh" x="2314" y="558.7" textLength="70.5" lengthAdjust="spacing">159.013</text>
<text class="ax wh2" x="2313.5" y="583" textLength="49" lengthAdjust="spacing">29:53</text>
<clipPath id="tc"><rect x="17" y="1165" width="2279.5" height="45"/></clipPath>
<g clip-path="url(#tc)">
<text class="ax" x="94.5" y="1195" textLength="49.5" lengthAdjust="spacing" text-anchor="middle">06:00</text>
<text class="ax" x="204.5" y="1195" textLength="49.5" lengthAdjust="spacing" text-anchor="middle">12:00</text>
<text class="ax" x="313.5" y="1195" textLength="49.5" lengthAdjust="spacing" text-anchor="middle">18:00</text>
<text class="ax" x="423.5" y="1195" text-anchor="middle">15</text>
<text class="ax" x="533.5" y="1195" textLength="49.5" lengthAdjust="spacing" text-anchor="middle">06:00</text>
<text class="ax" x="642.5" y="1195" textLength="49.5" lengthAdjust="spacing" text-anchor="middle">12:00</text>
<text class="ax" x="752.5" y="1195" textLength="49.5" lengthAdjust="spacing" text-anchor="middle">18:00</text>
<text class="ax" x="861.5" y="1195" text-anchor="middle">16</text>
<text class="ax" x="971.5" y="1195" textLength="49.5" lengthAdjust="spacing" text-anchor="middle">06:00</text>
<text class="ax" x="1080.5" y="1195" textLength="49.5" lengthAdjust="spacing" text-anchor="middle">12:00</text>
<text class="ax" x="1190.5" y="1195" textLength="49.5" lengthAdjust="spacing" text-anchor="middle">18:00</text>
<text class="ax" x="1300.5" y="1195" text-anchor="middle">17</text>
<text class="ax" x="1409.5" y="1195" textLength="49.5" lengthAdjust="spacing" text-anchor="middle">06:00</text>
<text class="ax" x="1519.5" y="1195" textLength="49.5" lengthAdjust="spacing" text-anchor="middle">12:00</text>
<text class="ax" x="1628.5" y="1195" textLength="49.5" lengthAdjust="spacing" text-anchor="middle">18:00</text>
<text class="ax" x="1738.5" y="1195" text-anchor="middle">18</text>
<text class="ax" x="1847.5" y="1195" font-weight="bold" text-anchor="middle">20</text>
<text class="ax" x="1957.5" y="1195" textLength="49.5" lengthAdjust="spacing" text-anchor="middle">12:00</text>
<text class="ax" x="2066.5" y="1195" textLength="49.5" lengthAdjust="spacing" text-anchor="middle">18:00</text>
<text class="ax" x="2176.5" y="1195" text-anchor="middle">21</text>
<text class="ax" x="2286.5" y="1195" textLength="49.5" lengthAdjust="spacing" text-anchor="middle">06:00</text>
</g>
<text class="lg" x="31.5" y="79.3" textLength="253" lengthAdjust="spacing">米ドル／円 · 1時間 · OANDA</text>
<text class="lg" x="298.6" y="79.3" textLength="39.5" lengthAdjust="spacing">始値</text>
<text class="lg gn" x="339.1" y="79.3" textLength="69.5" lengthAdjust="spacing">158.968</text>
<text class="lg" x="422.7" y="79.3" textLength="39.5" lengthAdjust="spacing">高値</text>
<text class="lg gn" x="462.8" y="79.3" textLength="69.5" lengthAdjust="spacing">159.038</text>
<text class="lg" x="545.9" y="79.3" textLength="39.5" lengthAdjust="spacing">安値</text>
<text class="lg gn" x="586.4" y="79.3" textLength="69.5" lengthAdjust="spacing">158.918</text>
<text class="lg" x="669.6" y="79.3" textLength="39.5" lengthAdjust="spacing">終値</text>
<text class="lg gn" x="710" y="79.3" textLength="69.5" lengthAdjust="spacing">159.013</text>
<text class="lg gn" x="794" y="79.3" textLength="142" lengthAdjust="spacing">+0.046 (+0.03%)</text>
<text class="lg2" x="31.5" y="107.5" textLength="52" lengthAdjust="spacing">Pivots</text>
<text class="lg2" x="31.5" y="136" textLength="106.5" lengthAdjust="spacing">BB+MA+EMA</text>
<text class="lg2" x="31.5" y="1085" textLength="50.5" lengthAdjust="spacing">MACD</text>
<text class="lg2" x="31.5" y="1141" textLength="26" lengthAdjust="spacing">RSI</text>
<text x="17" y="33" style="font-size:19px" textLength="608" lengthAdjust="spacing">4月 20, 2026 17:30 UTC+9、shimatetsu27がTradingView.comで作成</text>
<path d="M2053.29 1013.82 A16.4 16.4 0 1 0 2064.22 1024.84" fill="none" stroke="#9323ab" stroke-width="2.2" stroke-linecap="round"/>
<path d="M2053 1020.3 L2041.1 1030.4 L2047.9 1030.4 L2042.9 1038 L2055.7 1028.4 L2049.1 1028.4 Z" fill="#9323ab"/>
<circle cx="2060.1" cy="1017.8" r="4.1" fill="#f23645"/>
<g fill="#131313">
<path d="M20.3 1248 H40.4 V1272.8 H30.2 V1258 H20.3 Z"/>
<circle cx="49.1" cy="1253" r="4.7"/>
<path d="M58.8 1248 H70.5 L60.9 1272.8 H49.5 Z"/>
</g>
<text x="83" y="1272.8" style="font-size:34.5px;font-weight:bold;fill:#131313;stroke:#131313;stroke-width:.7px" textLength="203" lengthAdjust="spacingAndGlyphs">TradingView</text>
</svg></body></html>
